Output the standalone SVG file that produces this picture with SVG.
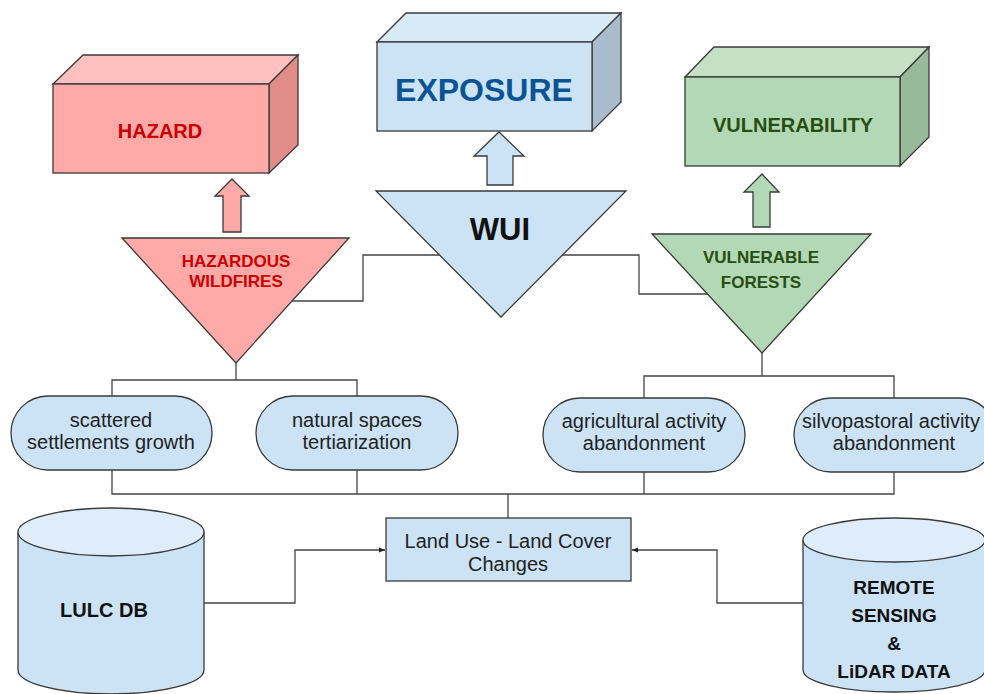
<svg xmlns="http://www.w3.org/2000/svg" width="984" height="694" viewBox="0 0 984 694">
<style>
.s{stroke:#3a3a3a;stroke-width:1.3;stroke-linejoin:miter}
.c{fill:none;stroke:#444;stroke-width:1.3}
.t{font-family:"Liberation Sans",Arial,sans-serif;text-anchor:middle}
.b{font-weight:bold}
.r{font-size:20px;fill:#222}
.blue{fill:#cce3f5}
.blueTop{fill:#deedf9}
</style>
<defs>
<marker id="ah" viewBox="0 0 10 10" refX="10" refY="5" markerWidth="6" markerHeight="6" orient="auto" markerUnits="userSpaceOnUse">
<path d="M0,1 L10,5 L0,9 z" fill="#222"/>
</marker>
</defs>
<rect width="984" height="694" fill="#fff"/>

<g id="connectors">
<polyline class="c" points="280,301 363,301 363,255 639,255 639,294 720,294"/>
<polyline class="c" points="236,363 236,380"/>
<polyline class="c" points="112,396 112,380 357,380 357,396"/>
<polyline class="c" points="762,353 762,376"/>
<polyline class="c" points="644,398 644,376 894,376 894,398"/>
<polyline class="c" points="112,470 112,494 894,494 894,472"/>
<line class="c" x1="357" y1="470" x2="357" y2="494"/>
<line class="c" x1="644" y1="472" x2="644" y2="494"/>
<line class="c" x1="508" y1="494" x2="508" y2="518"/>
<polyline class="c" points="204,603 295,603 295,550 385,550" marker-end="url(#ah)"/>
<polyline class="c" points="803,603 717,603 717,550 632,550" marker-end="url(#ah)"/>
</g>

<g id="hazard">
<polygon class="s" points="53,84 83,55 298,55 269,84" fill="#ffc0bf"/>
<polygon class="s" points="269,84 298,55 298,145 269,173" fill="#e38d89"/>
<rect class="s" x="53" y="84" width="216" height="89" fill="#ffaaa8"/>
<text class="t b" x="160" y="138" font-size="20" fill="#cc0000">HAZARD</text>
</g>

<g id="exposure">
<polygon class="s" points="377,42 406,13 621,13 592,42" fill="#d9eaf7"/>
<polygon class="s" points="592,42 621,13 621,102 592,131" fill="#a8bccc"/>
<rect class="s" x="377" y="42" width="215" height="89" fill="#cce3f5"/>
<text class="t b" x="484" y="101" font-size="32" fill="#0b5394">EXPOSURE</text>
</g>

<g id="vulnerability">
<polygon class="s" points="685,77 714,47 929,47 900,77" fill="#c4e0c5"/>
<polygon class="s" points="900,77 929,47 929,137 900,166" fill="#98b99a"/>
<rect class="s" x="685" y="77" width="215" height="89" fill="#b3d8b5"/>
<text class="t b" x="793" y="132" font-size="20" fill="#274e13">VULNERABILITY</text>
</g>

<g id="arrow-hazard">
<polygon class="s" points="232,179 249,196 241,196 241,232 223,232 223,196 215,196" fill="#ffaaa8"/>
</g>
<g id="arrow-exposure">
<polygon class="s" points="499,132 524,156 513,156 513,185 487,185 487,156 474,156" fill="#cce3f5"/>
</g>
<g id="arrow-vulnerability">
<polygon class="s" points="762,174 779,192 770,192 770,227 753,227 753,192 744,192" fill="#b3d8b5"/>
</g>

<g id="hazardous-wildfires">
<polygon class="s" points="122,238 349,238 236,363" fill="#ffaaa8"/>
<text class="t b" x="236" y="267" font-size="17" fill="#cc0000">HAZARDOUS</text>
<text class="t b" x="236" y="287" font-size="17" fill="#cc0000">WILDFIRES</text>
</g>

<g id="wui">
<polygon class="s" points="376,191 626,191 501,317" fill="#cce3f5"/>
<text class="t b" x="500" y="240" font-size="31" fill="#111">WUI</text>
</g>

<g id="vulnerable-forests">
<polygon class="s" points="652,234 871,234 762,353" fill="#b3d8b5"/>
<text class="t b" x="761" y="263" font-size="17" fill="#274e13">VULNERABLE</text>
<text class="t b" x="761" y="288" font-size="17" fill="#274e13">FORESTS</text>
</g>

<g id="scattered">
<rect class="s blue" x="11" y="396" width="201" height="74" rx="37"/>
<text class="t r" x="111" y="427">scattered</text>
<text class="t r" x="111" y="449">settlements growth</text>
</g>
<g id="natural">
<rect class="s blue" x="256" y="396" width="202" height="74" rx="37"/>
<text class="t r" x="357" y="427">natural spaces</text>
<text class="t r" x="357" y="449">tertiarization</text>
</g>
<g id="agricultural">
<rect class="s blue" x="543" y="398" width="202" height="74" rx="37"/>
<text class="t r" x="644" y="428">agricultural activity</text>
<text class="t r" x="644" y="450">abandonment</text>
</g>
<g id="silvopastoral">
<rect class="s blue" x="794" y="398" width="202" height="74" rx="37"/>
<text class="t r" x="891" y="428">silvopastoral activity</text>
<text class="t r" x="894" y="450">abandonment</text>
</g>

<g id="lulcc">
<rect class="s blue" x="386" y="518" width="245" height="63"/>
<text class="t r" x="508" y="548">Land Use - Land Cover</text>
<text class="t r" x="508" y="571">Changes</text>
</g>

<g id="lulc-db">
<path class="s" d="M18,532 L18,670 A93,24 0 0 0 204,670 L204,532" fill="#cce3f5"/>
<ellipse class="s" cx="111" cy="532" rx="93" ry="24" fill="#deedf9"/>
<text class="t b" x="104" y="617" font-size="20" fill="#111">LULC DB</text>
</g>

<g id="remote-sensing">
<path class="s" d="M803,540 L803,670 A91,22 0 0 0 985,670 L985,540" fill="#cce3f5"/>
<ellipse class="s" cx="894" cy="540" rx="91" ry="22" fill="#deedf9"/>
<text class="t b" x="894" y="594" font-size="19" fill="#111">REMOTE</text>
<text class="t b" x="894" y="622" font-size="19" fill="#111">SENSING</text>
<text class="t b" x="894" y="650" font-size="19" fill="#111">&amp;</text>
<text class="t b" x="894" y="678" font-size="19" fill="#111">LiDAR DATA</text>
</g>
</svg>
